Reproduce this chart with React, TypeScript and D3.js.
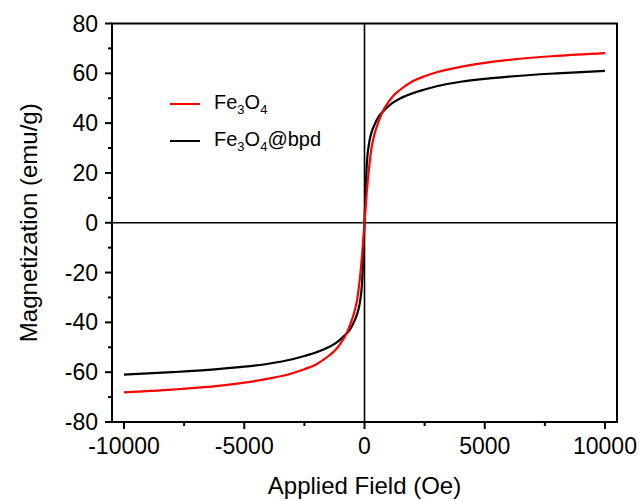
import React from "react";
import * as d3 from "d3";

const fieldOe = [
  -10000, -8000, -6000, -5000, -4000, -3000, -2500, -2000, -1500, -1200, -1000, -800, -600, -400, -300, -200, -100, 0,
  100, 200, 300, 400, 600, 800, 1000, 1200, 1500, 2000, 2500, 3000, 4000, 5000, 6000, 8000, 10000,
];
const magFe3O4 = [
  -68.1, -67.0, -65.4, -64.2, -62.6, -60.4, -58.8, -56.8, -53.5, -51.0, -48.5, -45.5, -41.0, -35.0, -30.5, -23.0, -13.0, 0,
  13.0, 23.0, 30.5, 35.0, 41.0, 45.5, 48.5, 51.0, 53.5, 56.8, 58.8, 60.4, 62.6, 64.2, 65.4, 67.0, 68.1,
];
const magFe3O4bpd = [
  -61.0, -60.0, -58.7, -57.8, -56.6, -54.8, -53.5, -52.0, -50.0, -48.3, -46.8, -45.0, -42.8, -39.0, -36.5, -32.5, -24.0, 0,
  24.0, 32.5, 36.5, 39.0, 42.8, 45.0, 46.8, 48.3, 50.0, 52.0, 53.5, 54.8, 56.6, 57.8, 58.7, 60.0, 61.0,
];
const xMajorTicks = [-10000, -5000, 0, 5000, 10000];
const xMinorTicks = [-7500, -2500, 2500, 7500];
const yMajorTicks = [-80, -60, -40, -20, 0, 20, 40, 60, 80];
const yMinorTicks = [-70, -50, -30, -10, 10, 30, 50, 70];

const FONT = "Liberation Sans, Arial, sans-serif";

export default function App() {
  const left = 112, right = 617, top = 23.5, bottom = 422;
  const x = d3.scaleLinear().domain([-10500, 10500]).range([left, right]);
  const y = d3.scaleLinear().domain([-80, 80]).range([bottom, top]);
  const line = (vals: number[]) =>
    d3
      .line<number>()
      .x((_, i) => x(fieldOe[i]))
      .y((d) => y(d))
      .curve(d3.curveMonotoneX)(vals) as string;

  return (
    <svg
      width={641}
      height={501}
      style={{ position: "absolute", left: 0, top: 0, background: "#fff" }}
      fontFamily={FONT}
    >
      <rect x={0} y={0} width={641} height={501} fill="#fff" />
      {/* zero lines */}
      <line x1={x(0)} x2={x(0)} y1={top} y2={bottom} stroke="#000" strokeWidth={1.6} />
      <line x1={left} x2={right} y1={y(0)} y2={y(0)} stroke="#000" strokeWidth={1.6} />
      {/* curves */}
      <path d={line(magFe3O4bpd)} fill="none" stroke="#000" strokeWidth={2.2} />
      <path d={line(magFe3O4)} fill="none" stroke="#f00" strokeWidth={2.2} />
      {/* frame */}
      <rect x={left} y={top} width={right - left} height={bottom - top} fill="none" stroke="#000" strokeWidth={2} />
      {/* x ticks */}
      {xMajorTicks.map((t) => (
        <g key={"xm" + t}>
          <line x1={x(t)} x2={x(t)} y1={bottom} y2={bottom + 7} stroke="#000" strokeWidth={2} />
          <text x={x(t)} y={bottom + 32} fontSize={23} textAnchor="middle">
            {t}
          </text>
        </g>
      ))}
      {xMinorTicks.map((t) => (
        <line key={"xn" + t} x1={x(t)} x2={x(t)} y1={bottom} y2={bottom + 4} stroke="#000" strokeWidth={2} />
      ))}
      {/* y ticks */}
      {yMajorTicks.map((t) => (
        <g key={"ym" + t}>
          <line x1={left - 7} x2={left} y1={y(t)} y2={y(t)} stroke="#000" strokeWidth={2} />
          <text x={left - 14} y={y(t) + 8} fontSize={23} textAnchor="end">
            {t}
          </text>
        </g>
      ))}
      {yMinorTicks.map((t) => (
        <line key={"yn" + t} x1={left - 4} x2={left} y1={y(t)} y2={y(t)} stroke="#000" strokeWidth={2} />
      ))}
      {/* axis titles */}
      <text x={(left + right) / 2} y={494} fontSize={24} textAnchor="middle">
        Applied Field (Oe)
      </text>
      <text transform={`translate(37, ${(top + bottom) / 2}) rotate(-90)`} fontSize={24} textAnchor="middle">
        Magnetization (emu/g)
      </text>
      {/* legend */}
      <line x1={170} x2={200} y1={104} y2={104} stroke="#f00" strokeWidth={2} />
      <text x={214} y={108.5} fontSize={20}>
        Fe<tspan fontSize={13} dy={5}>3</tspan>
        <tspan dy={-5}>O</tspan>
        <tspan fontSize={13} dy={5}>4</tspan>
      </text>
      <line x1={170} x2={200} y1={141} y2={141} stroke="#000" strokeWidth={2} />
      <text x={214} y={145.5} fontSize={20}>
        Fe<tspan fontSize={13} dy={5}>3</tspan>
        <tspan dy={-5}>O</tspan>
        <tspan fontSize={13} dy={5}>4</tspan>
        <tspan dy={-5}>@bpd</tspan>
      </text>
    </svg>
  );
}
